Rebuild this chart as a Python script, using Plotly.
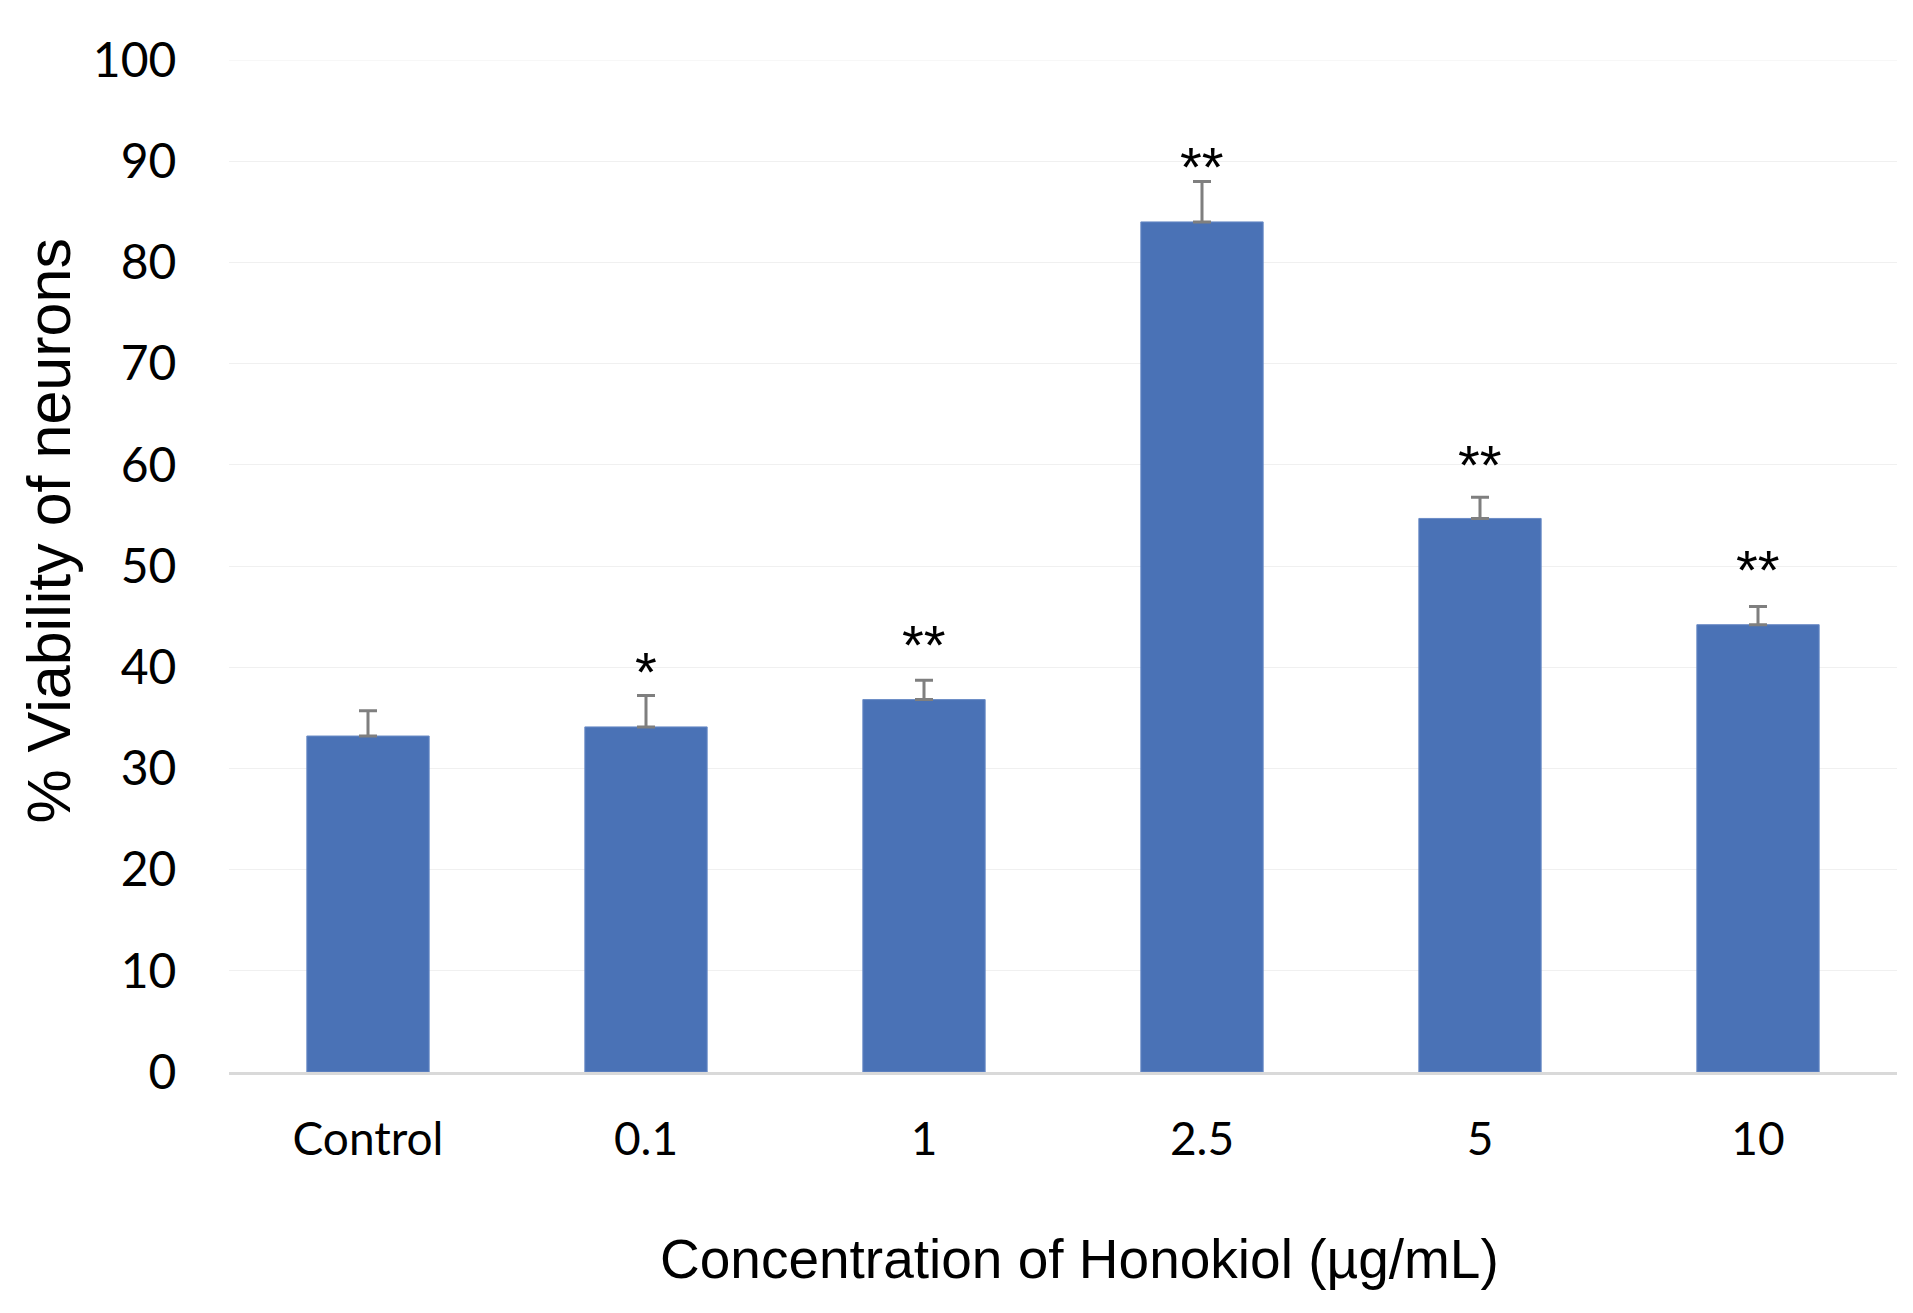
import plotly.graph_objects as go

# ---- data ----
categories = ["Control", "0.1", "1", "2.5", "5", "10"]
viability = [33.2, 34.1, 36.8, 84.0, 54.7, 44.2]
sem = [2.5, 3.1, 1.9, 4.0, 2.1, 1.8]
significance = ["", "*", "**", "**", "**", "**"]
y_ticks = [0, 10, 20, 30, 40, 50, 60, 70, 80, 90, 100]

# ---- styling ----
bar_color = "#4a72b6"
err_color = "#7f7f7f"
grid_color = "#f0f0f0"
star_shift_px = [0, 24, 36, 15, 33, 37]

fig = go.Figure()
fig.add_trace(go.Bar(
    x=list(range(len(categories))), y=viability,
    marker=dict(color=bar_color, line=dict(color="#6a8bc6", width=1)),
    width=0.44,
    error_y=dict(type="data", array=sem, arrayminus=[0] * len(sem), symmetric=False,
                 color=err_color, thickness=3, width=9),
    showlegend=False,
))

for i, (v, e, s, g) in enumerate(zip(viability, sem, significance, star_shift_px)):
    if s:
        fig.add_annotation(x=i, y=v + e, text=s, showarrow=False,
                           yanchor="middle", yshift=g,
                           font=dict(family="Liberation Sans", size=56, color="black"))

fig.add_annotation(xref="paper", yref="paper", x=0.5096, y=-0.1848,
                   text="Concentration of Honokiol (µg/mL)", showarrow=False,
                   xanchor="center", yanchor="middle",
                   font=dict(family="Liberation Sans", size=55, color="black"))
fig.add_annotation(xref="paper", yref="paper", x=(49 - 229) / 1668, y=0.535,
                   text="% Viability of neurons", showarrow=False, textangle=-90,
                   xanchor="center", yanchor="middle",
                   font=dict(family="Liberation Sans", size=61, color="black"))

# top gridline (at the upper edge of the range)
fig.add_shape(type="line", xref="paper", yref="y", x0=0, x1=1,
              y0=y_ticks[-1], y1=y_ticks[-1], layer="below",
              line=dict(color=grid_color, width=1))

fig.update_layout(
    width=1905, height=1305,
    margin=dict(l=221, r=16, t=52, b=241, autoexpand=False),
    plot_bgcolor="white", paper_bgcolor="white",
    xaxis=dict(
        type="linear", range=[-0.5, len(categories) - 0.5],
        tickvals=list(range(len(categories))), ticktext=categories,
        showline=True, linecolor="#d9d9d9", linewidth=3,
        showgrid=False, zeroline=False, automargin=False,
        ticks="outside", tickcolor="rgba(0,0,0,0)", ticklen=25,
        tickfont=dict(family="Lato", size=46, color="black"),
    ),
    yaxis=dict(
        range=[0, 100], tickvals=y_ticks, automargin=False,
        showgrid=True, gridcolor=grid_color, gridwidth=1,
        showline=False, zeroline=False,
        ticks="outside", tickcolor="rgba(0,0,0,0)", ticklen=42,
        tickfont=dict(family="Lato", size=48, color="black"),
    ),
)

fig.write_html("out.html")
